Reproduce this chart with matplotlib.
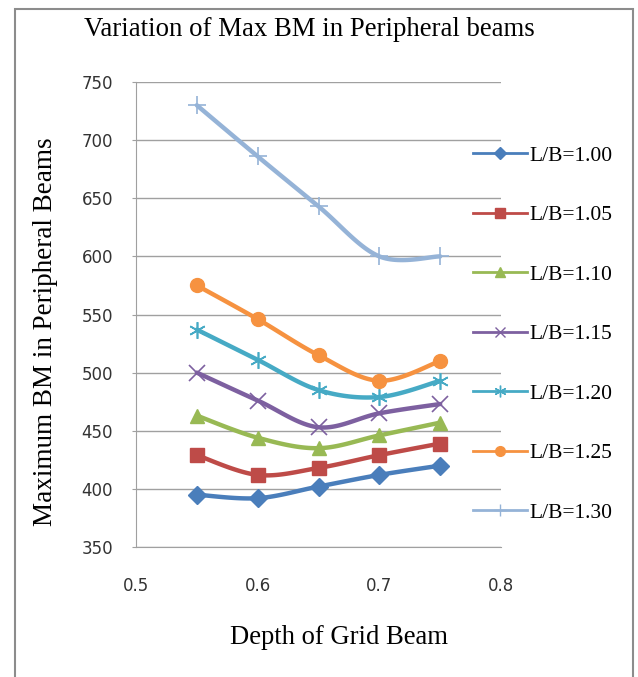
import numpy as np
import matplotlib
matplotlib.use("Agg")
import matplotlib.pyplot as plt
from matplotlib.patches import Rectangle

depth = [0.55, 0.60, 0.65, 0.70, 0.75]
labels = ["L/B=1.00", "L/B=1.05", "L/B=1.10", "L/B=1.15", "L/B=1.20", "L/B=1.25", "L/B=1.30"]
lb100 = [395, 392, 402, 412, 420]
lb105 = [429, 412, 418, 429, 439]
lb110 = [463, 444, 435, 446, 457]
lb115 = [500, 476, 453, 465, 473]
lb120 = [537, 511, 485, 479, 493]
lb125 = [575, 546, 515, 493, 510]
lb130 = [730, 686, 643, 600, 600]
series = [lb100, lb105, lb110, lb115, lb120, lb125, lb130]
yticks = [350, 400, 450, 500, 550, 600, 650, 700, 750]
xticks = [0.5, 0.6, 0.7, 0.8]

colors = ["#4A7EBB", "#BE4B48", "#98B954", "#7D60A0", "#46AAC5", "#F69240", "#95B3D7"]
markers = ["D", "s", "^", "x", (6, 2, 0), "o", "+"]
msizes = [9, 10, 10, 11, 12, 10, 13]


def smooth(x, y, n=30):
    x = np.asarray(x, float); y = np.asarray(y, float)
    P = np.column_stack([x, y])
    out = [P[0]]
    m = len(P)
    for i in range(m - 1):
        p0 = P[i - 1] if i > 0 else P[i]
        p1 = P[i]
        p2 = P[i + 1]
        p3 = P[i + 2] if i + 2 < m else P[i + 1]
        c1 = p1 + (p2 - p0) / 6.0
        c2 = p2 - (p3 - p1) / 6.0
        t = np.linspace(0, 1, n)[1:, None]
        seg = ((1 - t) ** 3) * p1 + 3 * ((1 - t) ** 2) * t * c1 + 3 * (1 - t) * t ** 2 * c2 + t ** 3 * p2
        out.extend(seg)
    out = np.array(out)
    return out[:, 0], out[:, 1]


W, H = 638, 677
fig = plt.figure(figsize=(W / 100, H / 100), dpi=100)
ax = fig.add_axes([136 / W, 1 - 547 / H, (501 - 136) / W, (547 - 82) / H])

for ys, lab, c, mk, ms in zip(series, labels, colors, markers, msizes):
    sx, sy = smooth(depth, ys)
    ax.plot(sx, sy, color=c, lw=3.2, solid_capstyle="round", zorder=3)
    ax.plot(depth, ys, ls="none", marker=mk, color=c, markersize=ms,
            markeredgewidth=1.0 if mk not in ("x", "+", (6, 2, 0)) else 1.2,
            markeredgecolor=c, zorder=4)
    ax.plot([], [], color=c, lw=2.0, marker=mk, markersize=ms * 0.7,
            markeredgecolor=c, label=lab)

ax.set_xlim(0.5, 0.8)
ax.set_ylim(350, 750)
ax.set_xticks(xticks)
ax.set_yticks(yticks)
ax.set_xticklabels([f"{v:.1f}" for v in xticks])
ax.set_yticklabels([str(v) for v in yticks])
ax.grid(axis="y", color="#A0A0A0", lw=1.0)
ax.set_axisbelow(True)
for s in ["top", "right"]:
    ax.spines[s].set_visible(False)
ax.spines["left"].set_color("#A0A0A0")
ax.spines["bottom"].set_color("#A0A0A0")
ax.tick_params(axis="y", length=3, color="#A0A0A0", pad=13.5, labelsize=12, labelcolor="#333333")
ax.tick_params(axis="x", length=0, pad=21.5, labelsize=12, labelcolor="#333333")

serif = "Liberation Serif"
fig.text(0.485, 1 - 29 / H, "Variation of Max BM in Peripheral beams", ha="center", va="center",
         family=serif, fontsize=19.3)
fig.text(339 / W, 1 - 637 / H, "Depth of Grid Beam", ha="center", va="center",
         family=serif, fontsize=19.2)
fig.text(46 / W, 1 - 332 / H, "Maximum BM in Peripheral Beams", ha="center", va="center",
         rotation=90, family=serif, fontsize=19.5)

leg = fig.legend(loc="upper left", bbox_to_anchor=(462 / W, 1 - 135 / H), frameon=False,
                 prop={"family": serif, "size": 15.5}, labelspacing=1.83, handlelength=2.5,
                 handletextpad=0.15, borderpad=0)

fig.add_artist(Rectangle((15 / W, -0.01), (633 - 15) / W, (1 - 9 / H) + 0.01,
                         transform=fig.transFigure, fill=False, edgecolor="#8C8C8C", lw=1.5))

fig.savefig("out.png", dpi=100)
